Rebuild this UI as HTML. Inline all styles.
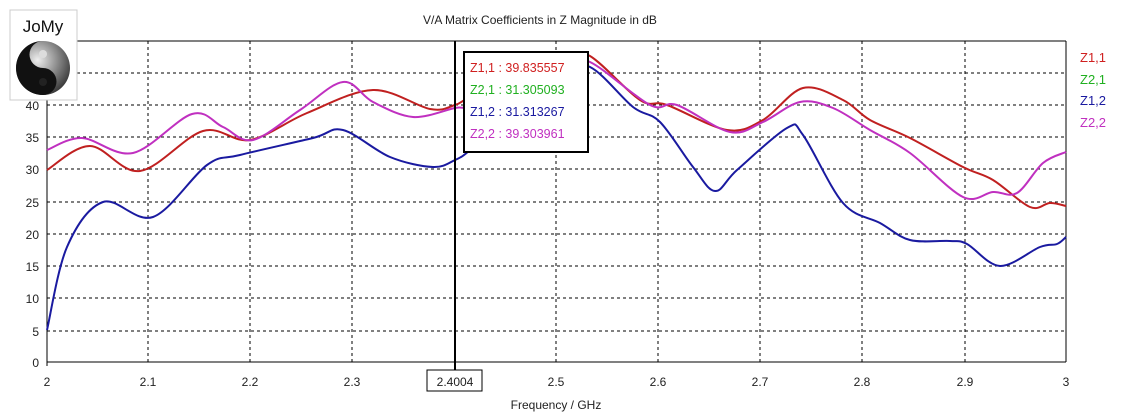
<!DOCTYPE html>
<html><head><meta charset="utf-8"><style>
body{margin:0;background:#fff;width:1135px;height:412px;overflow:hidden}
svg{display:block;font-family:"Liberation Sans",sans-serif}
</style></head><body>
<svg id="s" width="1135" height="412" xmlns="http://www.w3.org/2000/svg">
<rect width="1135" height="412" fill="#fff"/>
<text x="540" y="24" font-size="12" text-anchor="middle" fill="#222">V/A Matrix Coefficients in Z Magnitude in dB</text>
<g stroke="#000" stroke-width="1" stroke-dasharray="3,3">
<line x1="47" x2="1066" y1="73" y2="73"/><line x1="47" x2="1066" y1="105" y2="105"/>
<line x1="47" x2="1066" y1="137" y2="137"/><line x1="47" x2="1066" y1="169" y2="169"/>
<line x1="47" x2="1066" y1="202" y2="202"/><line x1="47" x2="1066" y1="234" y2="234"/>
<line x1="47" x2="1066" y1="266" y2="266"/><line x1="47" x2="1066" y1="298" y2="298"/>
<line x1="47" x2="1066" y1="331" y2="331"/>
<line x1="148" x2="148" y1="41" y2="362"/><line x1="250" x2="250" y1="41" y2="362"/>
<line x1="352" x2="352" y1="41" y2="362"/><line x1="556" x2="556" y1="41" y2="362"/>
<line x1="658" x2="658" y1="41" y2="362"/><line x1="760" x2="760" y1="41" y2="362"/>
<line x1="862" x2="862" y1="41" y2="362"/><line x1="965" x2="965" y1="41" y2="362"/>
</g>
<line x1="47" x2="1066" y1="41" y2="41" stroke="#000"/>
<line x1="1066" x2="1066" y1="41" y2="362" stroke="#000"/>
<line x1="47" x2="1066" y1="362" y2="362" stroke="#000"/>
<line x1="47" x2="47" y1="41" y2="366" stroke="#000"/>
<g font-size="12" fill="#222" text-anchor="end">
<text x="39" y="110">40</text><text x="39" y="142">35</text><text x="39" y="174">30</text>
<text x="39" y="207">25</text><text x="39" y="239">20</text><text x="39" y="271">15</text>
<text x="39" y="303">10</text><text x="39" y="336">5</text><text x="39" y="367">0</text>
</g>
<g font-size="12" fill="#222" text-anchor="middle">
<text x="47" y="386">2</text><text x="148" y="386">2.1</text><text x="250" y="386">2.2</text>
<text x="352" y="386">2.3</text><text x="556" y="386">2.5</text><text x="658" y="386">2.6</text>
<text x="760" y="386">2.7</text><text x="862" y="386">2.8</text><text x="965" y="386">2.9</text>
<text x="1066" y="386">3</text>
<text x="556" y="409">Frequency / GHz</text>
</g>
<rect x="427" y="370" width="55" height="21" fill="#fff" stroke="#000"/>
<text x="455" y="386" font-size="12" text-anchor="middle" fill="#222">2.4004</text>
<g id="curves" fill="none" stroke-width="2"></g>
<line x1="455" x2="455" y1="41" y2="370" stroke="#000" stroke-width="2"/>
<rect x="464" y="52" width="124" height="100" fill="#fff" stroke="#000" stroke-width="2"/>
<g font-size="12.5">
<text x="470" y="72" fill="#d02020">Z1,1 : 39.835557</text>
<text x="470" y="94" fill="#20b020">Z2,1 : 31.305093</text>
<text x="470" y="116" fill="#1a1aa0">Z1,2 : 31.313267</text>
<text x="470" y="138" fill="#c030c0">Z2,2 : 39.303961</text>
</g>
<g font-size="13">
<text x="1080" y="62" fill="#d02020">Z1,1</text>
<text x="1080" y="84" fill="#20b020">Z2,1</text>
<text x="1080" y="105" fill="#1a1aa0">Z1,2</text>
<text x="1080" y="127" fill="#c030c0">Z2,2</text>
</g>
<rect x="10" y="10" width="67" height="90" fill="#fff" stroke="#ccc"/>
<text x="43" y="32" font-size="17" text-anchor="middle" fill="#111">JoMy</text>
<defs><radialGradient id="g" cx="0.4" cy="0.35" r="0.7"><stop offset="0" stop-color="#eee"/><stop offset="1" stop-color="#333"/></radialGradient></defs>
<circle cx="43" cy="68" r="27" fill="url(#g)"/>
<path d="M43 41 A27 27 0 0 0 43 95 A13.5 13.5 0 0 0 43 68 A13.5 13.5 0 0 1 43 41Z" fill="#111"/>
<circle cx="43" cy="54" r="4" fill="#ddd"/><circle cx="43" cy="82" r="4" fill="#222"/>
</svg>
<script>
var data={
"#c02020":[[47,170],[90,146],[140,171],[203,131],[250,140],[307,113],[373,90],[430,109],[455,105],[470,97],[510,80],[540,64],[565,57],[590,56],[640,100],[667,105],[727,130],[763,120],[803,88],[843,100],[870,120],[910,138],[963,167],[993,180],[1030,207],[1050,203],[1066,206]],
"#c030c0":[[47,150],[82,138],[133,153],[192,114],[223,127],[253,140],[300,110],[343,82],[373,102],[413,117],[455,108],[467,107],[500,95],[530,72],[560,63],[590,62],[650,105],[677,105],[730,132],[763,122],[800,102],[833,108],[870,130],[910,153],[963,197],[993,192],[1017,193],[1043,163],[1066,152]],
"#1a1aa0":[[47,330],[67,247],[103,202],[153,217],[207,165],[240,155],[313,138],[343,130],[390,157],[433,167],[455,160],[470,150],[500,120],[530,85],[555,70],[590,67],[633,107],[660,122],[693,167],[715,191],[737,170],[787,128],[803,135],[843,203],[880,223],[910,240],[950,241],[967,244],[1000,266],[1040,247],[1057,244],[1066,237]]};
var g=document.getElementById('curves'),ns='http://www.w3.org/2000/svg';
for(var c in data){var p=data[c],d='M'+p[0][0]+' '+p[0][1];
for(var i=0;i<p.length-1;i++){var p0=p[i-1]||p[i],p1=p[i],p2=p[i+1],p3=p[i+2]||p2;
d+=' C'+(p1[0]+(p2[0]-p0[0])/6)+' '+(p1[1]+(p2[1]-p0[1])/6)+' '+(p2[0]-(p3[0]-p1[0])/6)+' '+(p2[1]-(p3[1]-p1[1])/6)+' '+p2[0]+' '+p2[1];}
var e=document.createElementNS(ns,'path');e.setAttribute('d',d);e.setAttribute('stroke',c);g.appendChild(e);}
</script>
</body></html>
